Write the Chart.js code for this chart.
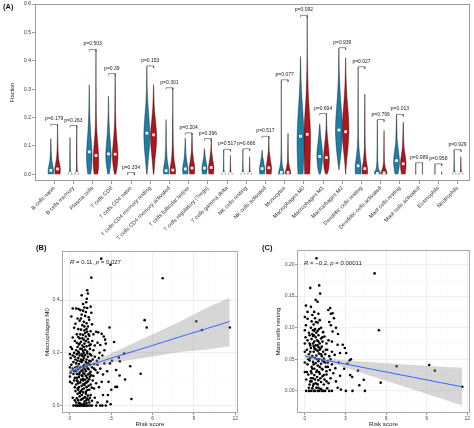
<!DOCTYPE html>
<html>
<head>
<meta charset="utf-8">
<script src="https://cdn.jsdelivr.net/npm/chart.js@4.4.1/dist/chart.umd.min.js"></script>
<style>
  html, body { margin: 0; padding: 0; background: #fff; }
  body { width: 474px; height: 428px; position: relative; overflow: hidden; font-family: "Liberation Sans", Arial, sans-serif; }
  canvas { position: absolute; }
  .tag { position: absolute; font-weight: bold; color: #111; font-size: 7.5px; line-height: 9px; }
</style>
</head>
<body>
<canvas id="violins" width="474" height="250" style="left:0;top:0"></canvas>
<canvas id="m0" width="242" height="188" style="left:0;top:240px"></canvas>
<canvas id="mast" width="232" height="188" style="left:242px;top:240px"></canvas>
<div class="tag" style="left:3px;top:2px">(A)</div>
<div class="tag" style="left:36px;top:243px">(B)</div>
<div class="tag" style="left:262px;top:243px">(C)</div>
<script>
// ---------- panel A data ----------
const cellTypes = ["B cells naive", "B cells memory", "Plasma cells", "T cells CD8", "T cells CD4 naive",
  "T cells CD4 memory resting", "T cells CD4 memory activated", "T cells follicular helper",
  "T cells regulatory (Tregs)", "T cells gamma delta", "NK cells resting", "NK cells activated",
  "Monocytes", "Macrophages M0", "Macrophages M1", "Macrophages M2", "Dendritic cells resting",
  "Dendritic cells activated", "Mast cells resting", "Mast cells activated", "Eosinophils", "Neutrophils"];

const pValues = ["0.179", "0.263", "0.503", "0.39", "0.334", "0.153", "0.301", "0.204", "0.396", "0.517", "0.666",
  "0.517", "0.077", "0.092", "0.694", "0.939", "0.027", "0.796", "0.013", "0.989", "0.958", "0.929"];

// medians (white squares), null = not shown
const lowMedians = [0.014, 0.004, 0.079, 0.072, null, 0.145, 0.013, 0.019, 0.022, 0.003, 0.003, 0.020,
  0.007, 0.134, 0.063, 0.156, 0.030, 0.003, 0.048, null, null, 0.003];
const highMedians = [0.019, 0.004, 0.066, 0.071, null, 0.139, 0.015, 0.022, 0.024, 0.003, 0.003, 0.023,
  0.007, 0.141, 0.059, 0.150, 0.020, 0.005, 0.037, null, null, 0.003];

// violin profiles: [fraction, density]; last entry is the maximum
const lowShapes = [
  [[0, 2.8], [0.015, 3], [0.03, 2.2], [0.05, 1.1], [0.08, 0.5], [0.126, 0]],
  [[0, 2.6], [0.004, 1.6], [0.012, 0.7], [0.03, 0.35], [0.13, 0]],
  [[0, 1.6], [0.03, 2.6], [0.065, 3.1], [0.1, 2.6], [0.15, 1.5], [0.2, 0.7], [0.25, 0.35], [0.315, 0]],
  [[0, 0.8], [0.03, 2.2], [0.065, 3], [0.1, 2.4], [0.15, 1.2], [0.2, 0.5], [0.276, 0]],
  [[0, 0.4], [0.003, 0]],
  [[0, 0.2], [0.05, 1.5], [0.1, 2.9], [0.145, 3.3], [0.2, 2.3], [0.25, 1.1], [0.3, 0.45], [0.379, 0]],
  [[0, 2.9], [0.02, 2.8], [0.05, 1.3], [0.1, 0.45], [0.193, 0]],
  [[0, 2.6], [0.02, 3], [0.04, 2], [0.07, 0.8], [0.128, 0]],
  [[0, 2.2], [0.02, 2.9], [0.04, 2], [0.06, 0.9], [0.091, 0]],
  [[0, 2.6], [0.004, 1.3], [0.012, 0.5], [0.03, 0.25], [0.085, 0]],
  [[0, 2.6], [0.004, 1.3], [0.012, 0.5], [0.03, 0.25], [0.087, 0]],
  [[0, 2.6], [0.02, 2.9], [0.04, 1.9], [0.06, 0.8], [0.085, 0]],
  [[0, 3], [0.01, 2.9], [0.025, 1.6], [0.05, 0.6], [0.1, 0.25], [0.33, 0]],
  [[0, 2.8], [0.05, 3.4], [0.1, 3.8], [0.15, 3.6], [0.2, 2.9], [0.25, 1.9], [0.3, 1], [0.35, 0.45], [0.415, 0]],
  [[0, 0.6], [0.02, 2], [0.05, 3], [0.08, 3], [0.11, 2], [0.14, 1], [0.178, 0]],
  [[0.015, 0], [0.05, 1.4], [0.1, 3], [0.15, 3.8], [0.2, 3.3], [0.25, 2.2], [0.3, 1.2], [0.36, 0.5], [0.443, 0]],
  [[0, 3], [0.03, 3.2], [0.06, 2], [0.1, 0.8], [0.15, 0.35], [0.376, 0]],
  [[0, 3.2], [0.008, 3], [0.02, 1.3], [0.05, 0.45], [0.19, 0]],
  [[0, 1.6], [0.03, 3], [0.05, 3.2], [0.08, 2.2], [0.12, 0.8], [0.208, 0]],
  [[0, 0.5], [0.002, 0.15], [0.038, 0]],
  [[0, 0.5], [0.002, 0.15], [0.034, 0]],
  [[0, 2.6], [0.004, 1.4], [0.012, 0.5], [0.03, 0.25], [0.084, 0]]
];
const highShapes = [
  [[0, 2.8], [0.02, 3.1], [0.035, 2.3], [0.055, 1.2], [0.09, 0.5], [0.13, 0.25], [0.173, 0]],
  [[0, 2.6], [0.004, 1.6], [0.012, 0.7], [0.03, 0.35], [0.169, 0]],
  [[0, 2], [0.03, 3], [0.06, 3], [0.1, 2.2], [0.15, 1], [0.2, 0.5], [0.3, 0.2], [0.437, 0]],
  [[0, 0.8], [0.03, 2.3], [0.07, 3.1], [0.11, 2.2], [0.16, 1], [0.22, 0.4], [0.352, 0]],
  [[0, 0.3], [0.002, 0]],
  [[0, 0.3], [0.05, 1.5], [0.1, 3], [0.14, 3.4], [0.19, 2.1], [0.24, 0.8], [0.316, 0]],
  [[0, 3], [0.02, 3], [0.05, 1.5], [0.1, 0.6], [0.2, 0.25], [0.302, 0]],
  [[0, 2.6], [0.025, 3], [0.05, 1.8], [0.08, 0.7], [0.143, 0]],
  [[0, 2.5], [0.025, 3], [0.05, 1.8], [0.08, 0.6], [0.123, 0]],
  [[0, 2.6], [0.004, 1.3], [0.012, 0.5], [0.03, 0.25], [0.067, 0]],
  [[0, 2.6], [0.004, 1.3], [0.012, 0.5], [0.03, 0.25], [0.062, 0]],
  [[0, 2.6], [0.025, 3], [0.05, 1.8], [0.08, 0.6], [0.131, 0]],
  [[0, 3], [0.01, 2.9], [0.025, 1.6], [0.05, 0.6], [0.145, 0]],
  [[0, 2.8], [0.05, 3.3], [0.1, 3.6], [0.15, 3.6], [0.2, 2.8], [0.25, 1.8], [0.3, 1], [0.4, 0.3], [0.557, 0]],
  [[0, 0.8], [0.02, 2.5], [0.05, 3.2], [0.08, 2.8], [0.12, 1.5], [0.16, 0.5], [0.211, 0]],
  [[0, 0], [0.05, 1.2], [0.1, 2.8], [0.15, 3.6], [0.2, 3.2], [0.25, 2], [0.3, 1], [0.35, 0.4], [0.411, 0]],
  [[0, 3], [0.02, 3], [0.05, 1.5], [0.1, 0.5], [0.283, 0]],
  [[0, 3.2], [0.01, 3], [0.025, 1.3], [0.05, 0.45], [0.155, 0]],
  [[0, 2], [0.025, 3], [0.045, 3], [0.07, 2], [0.1, 0.8], [0.184, 0]],
  [[0, 0.5], [0.002, 0.15], [0.036, 0]],
  [[0, 0.4], [0.002, 0.1], [0.01, 0]],
  [[0, 2.6], [0.004, 1.4], [0.012, 0.5], [0.03, 0.25], [0.062, 0]]
];
const fractionTicks = [0, 0.1, 0.2, 0.3, 0.4, 0.5, 0.6];

// ---------- panel B / C data ----------
const riskTicks = [0, 3, 6, 9, 12];
const riskMinor = [1.5, 4.5, 7.5, 10.5];
const m0Ticks = [0, 0.2, 0.4];
const m0Minor = [0.1, 0.3, 0.5];
const mastTicks = [0, 0.05, 0.1, 0.15, 0.2];
const mastMinor = [-0.025, 0.025, 0.075, 0.125, 0.175];

// [risk score, Macrophages M0]
const pointsM0 = [
  [2.27, 0.557], [2.94, 0.534], [1.55, 0.485], [6.73, 0.483], [5.42, 0.324], [5.57, 0.296], [9.17, 0.32],
  [9.57, 0.286], [11.6, 0.296], [5.13, 0.121], [4.46, 0.025], [4.37, 0.149], [4.0, 0.099], [3.93, 0.197],
  [2.87, 0.296], [3.55, 0.182], [3.62, 0.168], [3.6, 0.114], [3.3, 0.071], [3.42, 0.071], [3.2, 0.241],
  [3.35, 0.135], [3.05, 0.17], [2.95, 0.005], [2.7, 0.015],
  [1.25, 0.437], [1.3, 0.425], [0.85, 0.418], [1.22, 0.405], [1.18, 0.392], [1.5, 0.375], [1.05, 0.372],
  [0.2, 0.368], [0.45, 0.368], [0.62, 0.366], [0.75, 0.362], [0.95, 0.36], [1.55, 0.352],
  [0.1, 0.338], [0.85, 0.345], [1.1, 0.34], [1.35, 0.335], [0.55, 0.33], [0.7, 0.322], [1.0, 0.318],
  [1.2, 0.312], [1.4, 0.325], [0.9, 0.305], [0.4, 0.31], [1.6, 0.308], [1.3, 0.3],
  [0.3, 0.295], [0.6, 0.29], [0.8, 0.288], [1.05, 0.285], [1.25, 0.28], [1.5, 0.282], [1.9, 0.28],
  [2.05, 0.278], [0.5, 0.27], [0.95, 0.268], [1.15, 0.262], [1.4, 0.265], [1.7, 0.27], [2.3, 0.272],
  [0.7, 0.255], [1.0, 0.25], [1.3, 0.252], [2.45, 0.262], [2.55, 0.25], [0.2, 0.258],
  [0.05, 0.222], [0.15, 0.215], [0.35, 0.245], [0.5, 0.238], [0.65, 0.232], [0.8, 0.242], [0.9, 0.228],
  [1.05, 0.235], [1.2, 0.225], [1.35, 0.24], [1.5, 0.232], [1.62, 0.245], [1.8, 0.228], [2.0, 0.238],
  [2.2, 0.23], [2.6, 0.235], [0.45, 0.21], [0.6, 0.205], [0.75, 0.215], [0.95, 0.208], [1.1, 0.212],
  [1.25, 0.205], [1.45, 0.215], [1.7, 0.21], [2.15, 0.2], [2.5, 0.21], [0.3, 0.2], [1.0, 0.2],
  [0.0, 0.195], [0.05, 0.18], [0.2, 0.19], [0.35, 0.185], [0.5, 0.195], [0.6, 0.18], [0.7, 0.19],
  [0.8, 0.175], [0.9, 0.188], [1.0, 0.18], [1.1, 0.192], [1.2, 0.175], [1.3, 0.185], [1.4, 0.17],
  [1.55, 0.19], [1.65, 0.175], [1.8, 0.185], [1.95, 0.17], [2.1, 0.18], [2.35, 0.19], [0.25, 0.165],
  [0.45, 0.16], [0.65, 0.158], [0.85, 0.165], [1.05, 0.155], [1.25, 0.16], [1.45, 0.155], [1.75, 0.158],
  [2.0, 0.155], [2.5, 0.16], [0.1, 0.155], [0.95, 0.15],
  [0.0, 0.145], [0.05, 0.125], [0.0, 0.11], [0.2, 0.14], [0.3, 0.13], [0.4, 0.145], [0.5, 0.12],
  [0.6, 0.138], [0.7, 0.125], [0.75, 0.145], [0.85, 0.115], [0.9, 0.135], [1.0, 0.142], [1.05, 0.12],
  [1.15, 0.13], [1.2, 0.148], [1.3, 0.118], [1.35, 0.138], [1.5, 0.128], [1.6, 0.145], [1.7, 0.112],
  [1.85, 0.135], [2.0, 0.125], [2.2, 0.14], [2.4, 0.118], [2.7, 0.13], [0.35, 0.105], [0.65, 0.108],
  [0.95, 0.102], [1.25, 0.105], [1.45, 0.11], [2.9, 0.16],
  [0.0, 0.09], [0.15, 0.085], [0.3, 0.095], [0.45, 0.08], [0.55, 0.092], [0.65, 0.07], [0.75, 0.088],
  [0.85, 0.075], [0.95, 0.095], [1.0, 0.065], [1.1, 0.085], [1.2, 0.07], [1.3, 0.092], [1.4, 0.06],
  [1.5, 0.08], [1.65, 0.095], [1.75, 0.065], [1.9, 0.085], [2.1, 0.07], [2.3, 0.09], [2.8, 0.09],
  [3.0, 0.06], [0.4, 0.055], [0.8, 0.055], [1.15, 0.052], [0.6, 0.06],
  [0.2, 0.03], [0.45, 0.012], [0.55, 0.045], [0.6, 0.02], [0.7, 0.035], [0.75, 0.008], [0.85, 0.04],
  [0.9, 0.025], [0.95, 0.05], [1.05, 0.015], [1.1, 0.032], [1.15, 0.045], [1.2, 0.01], [1.3, 0.038],
  [1.35, 0.022], [1.5, 0.04], [1.6, 0.018], [1.8, 0.03], [2.0, 0.012], [2.4, 0.04], [2.75, 0.04],
  [0.25, 0], [0.4, 0], [0.5, 0], [0.6, 0], [0.7, 0], [0.8, 0], [0.9, 0], [1.0, 0], [1.1, 0], [1.2, 0],
  [1.3, 0], [1.45, 0], [1.6, 0], [1.9, 0], [2.2, 0], [2.35, 0], [2.6, 0],
  [0.35, 0.02], [0.5, 0.028], [0.65, 0.01], [0.8, 0.022], [1.0, 0.03], [1.25, 0.027], [1.4, 0.012],
  [0.72, 0.048], [1.02, 0.006], [1.45, 0.03], [0.88, 0.004], [1.18, 0.02],
  [0.55, 0.065], [0.7, 0.05], [0.9, 0.062], [1.05, 0.078], [1.25, 0.058], [1.35, 0.075], [0.6, 0.085],
  [0.8, 0.098], [1.2, 0.088], [1.4, 0.1], [0.98, 0.082], [1.58, 0.068], [0.35, 0.07], [0.5, 0.095],
  [0.5, 0.105], [0.9, 0.112], [1.1, 0.098], [0.45, 0.13], [0.65, 0.118], [0.82, 0.132], [1.08, 0.138],
  [1.28, 0.142], [1.42, 0.122], [0.55, 0.148], [0.95, 0.125], [1.15, 0.112], [1.55, 0.115], [0.25, 0.12],
  [1.75, 0.14],
  [0.4, 0.175], [0.55, 0.17], [0.75, 0.168], [0.95, 0.172], [1.15, 0.165], [1.35, 0.16], [0.85, 0.195],
  [1.05, 0.19], [1.25, 0.198], [1.5, 0.168], [0.65, 0.2], [1.45, 0.195],
  [0.55, 0.222], [0.7, 0.235], [0.85, 0.215], [1.0, 0.222], [1.15, 0.245], [1.4, 0.228], [0.9, 0.255],
  [1.1, 0.275], [1.2, 0.29], [0.75, 0.27], [1.35, 0.27], [0.6, 0.26],
  [0.8, 0.33], [1.15, 0.355], [1.25, 0.37], [0.95, 0.385], [1.05, 0.3]
];

// [risk score, Mast cells resting]
const pointsMast = [
  [0.86, 0.21], [5.15, 0.186], [5.47, 0.096], [6.78, 0.039], [9.19, 0.041], [9.6, 0.032], [11.63, 0.0065],
  [5.6, 0.013], [4.44, 0], [3.52, 0], [4.35, 0.0175], [4.02, 0.009], [3.93, 0.032], [3.4, 0.05],
  [3.3, 0.048], [3.35, 0.025], [3.5, 0.022], [2.95, 0.068], [2.8, 0.073], [3.05, 0.06], [2.45, 0.09],
  [2.3, 0.1], [2.15, 0.115],
  [0.4, 0.163], [1.06, 0.167], [1.13, 0.154], [0.8, 0.144], [0.94, 0.141], [1.87, 0.131], [2.05, 0.123],
  [0.08, 0.135], [0.45, 0.133], [0.69, 0.125], [1.73, 0.128], [1.92, 0.122], [0.55, 0.12], [1.0, 0.122],
  [0.2, 0.125],
  [0.0, 0.117], [0.2, 0.114], [0.08, 0.104], [0.82, 0.109], [1.8, 0.109], [1.92, 0.104], [0.0, 0.096],
  [0.45, 0.1], [0.6, 0.096], [0.75, 0.098], [0.94, 0.095], [2.05, 0.094], [0.3, 0.092], [1.2, 0.1],
  [1.35, 0.093],
  [0.05, 0.085], [0.2, 0.08], [0.35, 0.088], [0.5, 0.082], [0.6, 0.087], [0.7, 0.078], [0.8, 0.085],
  [0.9, 0.08], [1.0, 0.088], [1.1, 0.075], [1.2, 0.083], [1.3, 0.078], [1.45, 0.086], [1.6, 0.075],
  [1.75, 0.08], [2.0, 0.078], [2.42, 0.073], [0.0, 0.075], [0.4, 0.072], [0.65, 0.071], [0.95, 0.072],
  [1.25, 0.07],
  [0.0, 0.062], [0.15, 0.065], [0.3, 0.058], [0.45, 0.068], [0.55, 0.055], [0.65, 0.062], [0.75, 0.066],
  [0.85, 0.056], [0.95, 0.063], [1.05, 0.059], [1.15, 0.067], [1.25, 0.055], [1.35, 0.062], [1.5, 0.058],
  [1.65, 0.065], [1.8, 0.055], [2.0, 0.062], [2.2, 0.057], [2.6, 0.06], [0.4, 0.052], [0.9, 0.05],
  [1.4, 0.051], [1.9, 0.05],
  [0.0, 0.045], [0.2, 0.042], [0.35, 0.048], [0.5, 0.038], [0.6, 0.046], [0.7, 0.035], [0.8, 0.044],
  [0.9, 0.032], [1.0, 0.047], [1.1, 0.038], [1.2, 0.043], [1.3, 0.034], [1.4, 0.046], [1.55, 0.038],
  [1.7, 0.045], [1.85, 0.033], [2.0, 0.042], [2.25, 0.036], [2.5, 0.045], [2.9, 0.035], [3.15, 0.043],
  [0.45, 0.031], [1.05, 0.03], [1.6, 0.031],
  [0.0, 0.03], [0.1, 0.018], [0.25, 0.026], [0.4, 0.015], [0.5, 0.028], [0.6, 0.02], [0.7, 0.025],
  [0.8, 0.012], [0.9, 0.022], [1.0, 0.017], [1.1, 0.027], [1.2, 0.014], [1.3, 0.023], [1.45, 0.018],
  [1.6, 0.026], [1.75, 0.012], [1.9, 0.02], [2.1, 0.028], [2.3, 0.015], [2.6, 0.024], [0.35, 0.01],
  [0.65, 0.011], [0.95, 0.01], [1.4, 0.01],
  [0.1, 0], [0.3, 0], [0.45, 0], [0.55, 0.004], [0.65, 0], [0.75, 0], [0.85, 0.005], [0.95, 0], [1.05, 0],
  [1.15, 0.003], [1.25, 0], [1.35, 0], [1.5, 0], [1.65, 0.004], [1.8, 0], [2.0, 0], [2.42, 0.005],
  [2.66, 0.002], [3.03, 0],
  [0.3, 0.005], [0.5, 0.015], [0.6, 0.008], [0.75, 0.018], [0.85, 0.03], [1.0, 0.005], [1.15, 0.02],
  [1.25, 0.035], [1.4, 0.025], [0.55, 0.035], [0.65, 0.042], [0.75, 0.052], [0.85, 0.065], [0.95, 0.04],
  [1.05, 0.05], [1.2, 0.058], [1.3, 0.048], [1.5, 0.045], [0.4, 0.062], [0.6, 0.075], [0.7, 0.068],
  [0.8, 0.072], [1.0, 0.078], [1.1, 0.065], [1.3, 0.085], [0.55, 0.09], [0.7, 0.095], [0.85, 0.092],
  [1.05, 0.098], [0.35, 0.075], [0.25, 0.05], [0.45, 0.02], [1.6, 0.015], [1.7, 0.038], [0.15, 0.03],
  [0.9, 0.011], [1.2, 0.003], [1.55, 0.065], [0.65, 0.105], [0.75, 0.115], [0.95, 0.108], [0.5, 0.11],
  [1.1, 0.112], [0.68, 0.088], [1.02, 0.069]
];

// linear fits with 95% band
const fitXM0 = [0, 0.5, 1, 1.5, 2, 3, 4, 5, 6, 8, 10, 11.6];
const fitM0 = [0.131, 0.139, 0.147, 0.155, 0.163, 0.180, 0.196, 0.212, 0.228, 0.261, 0.293, 0.319];
const upperM0 = [0.145, 0.150, 0.156, 0.164, 0.174, 0.198, 0.222, 0.246, 0.270, 0.319, 0.373, 0.409];
const lowerM0 = [0.117, 0.128, 0.138, 0.146, 0.152, 0.162, 0.170, 0.178, 0.186, 0.203, 0.213, 0.225];

const fitXMast = [0, 0.5, 1, 1.5, 2, 3, 4, 5, 6, 8, 10, 11.63];
const fitMast = [0.055, 0.0529, 0.0508, 0.0487, 0.0466, 0.0425, 0.0383, 0.0341, 0.0299, 0.0216, 0.0132, 0.0064];
const upperMast = [0.0593, 0.0560, 0.0534, 0.0513, 0.0500, 0.0484, 0.0468, 0.0453, 0.0439, 0.0410, 0.0382, 0.0365];
const lowerMast = [0.0507, 0.0498, 0.0482, 0.0461, 0.0432, 0.0366, 0.0298, 0.0229, 0.0159, 0.0022, -0.0118, -0.0232];

const corM0 = [["R", true], [" = 0.11, ", false], ["p", true], [" = 0.027", false]];
const corMast = [["R", true], [" = \u22120.2, ", false], ["p", true], [" = 0.00011", false]];

// ---------- drawing ----------
Chart.defaults.font.family = '"Liberation Sans", Arial, sans-serif';
Chart.defaults.color = '#333';

const lowColor = '#1b80a8';
const highColor = '#b2141c';
const dodge = 0.175;
const violinScale = 0.047;

// grey panel border
const framePlugin = {
  id: 'frame',
  afterDraw(chart, args, opts) {
    const { ctx, chartArea: a } = chart;
    ctx.save();
    ctx.strokeStyle = opts.color || '#999';
    ctx.lineWidth = 1;
    ctx.strokeRect(a.left + 0.5, a.top + 0.5, a.right - a.left - 1, a.bottom - a.top - 1);
    ctx.restore();
  }
};

function bracketTop(i) {
  const lowMax = lowShapes[i][lowShapes[i].length - 1][0];
  const highMax = highShapes[i][highShapes[i].length - 1][0];
  return Math.max(lowMax, highMax) + 0.003;
}

// p-value text above each bracket
const pLabelPlugin = {
  id: 'pLabels',
  afterDatasetsDraw(chart) {
    const { ctx, scales: { x, y } } = chart;
    ctx.save();
    ctx.font = '5px "Liberation Sans", Arial, sans-serif';
    ctx.fillStyle = '#222';
    ctx.textAlign = 'center';
    pValues.forEach((p, i) => {
      ctx.fillText('p=' + p, x.getPixelForValue(i + 1), y.getPixelForValue(bracketTop(i)) - 4);
    });
    ctx.restore();
  }
};

function violinOutline(center, shape) {
  const right = shape.map(([v, d]) => ({ x: center + d * violinScale, y: v }));
  const left = shape.slice(0, -1).reverse().map(([v, d]) => ({ x: center - d * violinScale, y: v }));
  return right.concat(left);
}

const violinSets = [];
cellTypes.forEach((name, i) => {
  [[lowShapes[i], -dodge, lowColor], [highShapes[i], dodge, highColor]].forEach(([shape, off, col]) => {
    violinSets.push({
      data: violinOutline(i + 1 + off, shape),
      showLine: true, fill: 'shape', tension: 0.3,
      backgroundColor: col, borderColor: 'rgba(12,12,12,0.8)', borderWidth: 0.5,
      pointRadius: 0, order: 3
    });
  });
  const top = bracketTop(i);
  violinSets.push({
    data: [{ x: i + 1 - dodge, y: top - 0.007 }, { x: i + 1 - dodge, y: top },
           { x: i + 1 + dodge, y: top }, { x: i + 1 + dodge, y: top - 0.007 }],
    showLine: true, fill: false, borderColor: '#444', borderWidth: 0.6, pointRadius: 0, tension: 0, order: 2
  });
});

function medianSet(values, off) {
  return {
    data: values.map((v, i) => v === null ? null : { x: i + 1 + off, y: v }).filter(p => p),
    showLine: false, pointStyle: 'rect', pointRadius: 1.9,
    pointBackgroundColor: '#fff', pointBorderWidth: 0, order: 1
  };
}

new Chart(document.getElementById('violins'), {
  type: 'line',
  data: { datasets: [...violinSets, medianSet(lowMedians, -dodge), medianSet(highMedians, dodge)] },
  options: {
    responsive: false,
    animation: false,
    layout: { padding: { left: 0, top: 3, right: 2, bottom: 0 } },
    plugins: { legend: { display: false }, tooltip: { enabled: false }, frame: { color: '#999' } },
    scales: {
      x: {
        type: 'linear', min: 0, max: 22.65,
        afterBuildTicks: s => { s.ticks = cellTypes.map((c, i) => ({ value: i + 1 })); },
        afterFit: s => { s.height = 69; s.paddingLeft = 0; s.paddingRight = 0; },
        ticks: {
          autoSkip: false, minRotation: 45, maxRotation: 45, padding: 1,
          font: { size: 5.5 }, color: '#333',
          callback: v => cellTypes[Math.round(v) - 1]
        },
        grid: { drawOnChartArea: false, tickLength: 3, color: '#555', lineWidth: 0.6 },
        border: { display: false }
      },
      y: {
        min: -0.0235, max: 0.6,
        afterBuildTicks: s => { s.ticks = fractionTicks.map(v => ({ value: v })); },
        afterFit: s => { s.width = 35; s.paddingTop = 0; s.paddingBottom = 0; },
        title: { display: true, text: 'Fraction', font: { size: 5.5 }, color: '#222', padding: { top: 9, bottom: 0 } },
        ticks: { font: { size: 5 }, color: '#333', padding: 1, callback: v => v.toFixed(1) },
        grid: { drawOnChartArea: false, tickLength: 3, color: '#555', lineWidth: 0.6 },
        border: { display: false }
      }
    }
  },
  plugins: [framePlugin, pLabelPlugin]
});

// correlation label, R and p in italics
const corPlugin = {
  id: 'corLabel',
  afterDatasetsDraw(chart, args, opts) {
    const { ctx, chartArea: a } = chart;
    let xPos = a.left + opts.dx;
    ctx.save();
    ctx.fillStyle = '#1a1a1a';
    ctx.textBaseline = 'middle';
    opts.parts.forEach(([txt, italic]) => {
      ctx.font = (italic ? 'italic ' : '') + '6px "Liberation Sans", Arial, sans-serif';
      ctx.fillText(txt, xPos, a.top + opts.dy);
      xPos += ctx.measureText(txt).width;
    });
    ctx.restore();
  }
};

function scatterPanel(id, cfg) {
  const isMajorX = v => riskTicks.includes(v);
  const isMajorY = v => cfg.yTicks.includes(v);
  const gridFor = isMajor => ({
    color: c => (c.tick && isMajor(c.tick.value)) ? '#e4e4e4' : '#f1f1f1',
    lineWidth: c => (c.tick && isMajor(c.tick.value)) ? 0.6 : 0.35,
    tickColor: c => (c.tick && isMajor(c.tick.value)) ? '#555' : 'rgba(0,0,0,0)',
    tickLength: 2, tickWidth: 0.6
  });
  new Chart(document.getElementById(id), {
    type: 'line',
    data: {
      datasets: [
        {
          data: cfg.points.map(([x, y]) => ({ x, y })), showLine: false,
          pointRadius: 1.3, pointBackgroundColor: '#000', pointBorderWidth: 0, order: 3
        },
        {
          data: cfg.fitX.map((x, i) => ({ x, y: cfg.upper[i] })), showLine: true, borderWidth: 0,
          pointRadius: 0, fill: '+1', backgroundColor: 'rgba(153,153,153,0.4)', order: 2
        },
        {
          data: cfg.fitX.map((x, i) => ({ x, y: cfg.lower[i] })), showLine: true, borderWidth: 0,
          pointRadius: 0, fill: false, order: 2
        },
        {
          data: cfg.fitX.map((x, i) => ({ x, y: cfg.fit[i] })), showLine: true, borderColor: '#3366FF',
          borderWidth: 1, pointRadius: 0, fill: false, order: 1
        }
      ]
    },
    options: {
      responsive: false,
      animation: false,
      layout: { padding: { left: 0, top: cfg.top, right: cfg.right, bottom: 0 } },
      plugins: {
        legend: { display: false }, tooltip: { enabled: false },
        frame: { color: '#a8a8a8' },
        corLabel: { parts: cfg.cor, dx: cfg.labelDx, dy: cfg.labelDy }
      },
      scales: {
        x: {
          type: 'linear', min: -0.58, max: 12.2,
          afterBuildTicks: s => { s.ticks = [...riskTicks, ...riskMinor].sort((a, b) => a - b).map(v => ({ value: v })); },
          afterFit: s => { s.height = 15; s.paddingLeft = 0; s.paddingRight = 0; },
          title: { display: true, text: 'Risk score', font: { size: 6.2 }, color: '#1a1a1a', padding: { top: 0, bottom: 0 } },
          ticks: { font: { size: 5 }, color: '#4d4d4d', padding: 0.5, maxRotation: 0, autoSkip: false,
                   callback: v => isMajorX(v) ? String(v) : '' },
          grid: gridFor(isMajorX),
          border: { display: false }
        },
        y: {
          min: cfg.yMin, max: cfg.yMax,
          afterBuildTicks: s => { s.ticks = [...cfg.yTicks, ...cfg.yMinor].sort((a, b) => a - b).map(v => ({ value: v })); },
          afterFit: s => { s.width = cfg.yWidth; s.paddingTop = 0; s.paddingBottom = 0; },
          title: { display: true, text: cfg.yTitle, font: { size: 6.2 }, color: '#1a1a1a', padding: { top: cfg.titlePad, bottom: 0 } },
          ticks: { font: { size: 5 }, color: '#4d4d4d', padding: 0.5, autoSkip: false,
                   callback: v => isMajorY(v) ? v.toFixed(cfg.digits) : '' },
          grid: gridFor(isMajorY),
          border: { display: false }
        }
      }
    },
    plugins: [framePlugin, corPlugin]
  });
}

scatterPanel('m0', {
  points: pointsM0, fitX: fitXM0, fit: fitM0, upper: upperM0, lower: lowerM0, cor: corM0,
  yTicks: m0Ticks, yMinor: m0Minor, yMin: -0.028, yMax: 0.586, digits: 1,
  yTitle: 'Macrophages M0', yWidth: 62, titlePad: 43.8, top: 11, right: 3, labelDx: 8, labelDy: 11.7
});
scatterPanel('mast', {
  points: pointsMast, fitX: fitXMast, fit: fitMast, upper: upperMast, lower: lowerMast, cor: corMast,
  yTicks: mastTicks, yMinor: mastMinor, yMin: -0.035, yMax: 0.223, digits: 2,
  yTitle: 'Mast cells resting', yWidth: 55, titlePad: 32.8, top: 10, right: 4, labelDx: 7, labelDy: 13.1
});
</script>
</body>
</html>
